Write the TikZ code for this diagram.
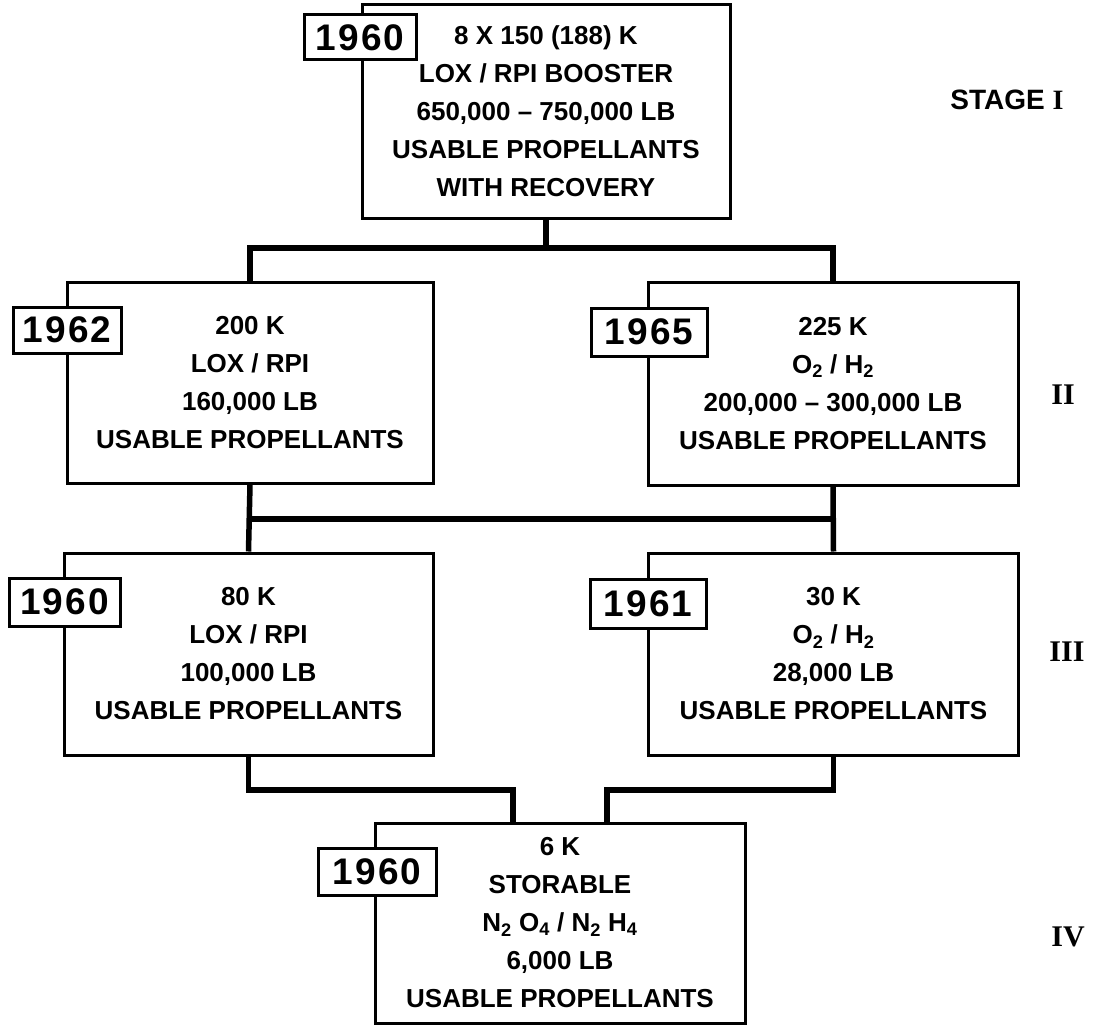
\documentclass[tikz,border=0pt]{standalone}
\usepackage{fontspec}
\setmainfont{Liberation Sans}
\newfontfamily\yearfont[LetterSpace=6]{Liberation Sans Bold}
\newfontfamily\romfont{Liberation Serif Bold}
\begin{document}
\begin{tikzpicture}[x=1pt,y=-1pt,
  stagebox/.style={draw,line width=3pt,fill=white,inner sep=0pt,align=center,
    font=\fontsize{26}{38}\selectfont\bfseries},
  yearbox/.style={draw,line width=3pt,fill=white,inner sep=0pt,
    font=\fontsize{37}{40}\selectfont\yearfont},
  conn/.style={line width=5.5pt},
  stagelbl/.style={font=\fontsize{28}{30}\selectfont\bfseries},
  romlbl/.style={font=\fontsize{30}{32}\selectfont\romfont}]
\useasboundingbox[fill=white] (0,0) rectangle (1098,1025);
% boxes
\node[stagebox,minimum width=368pt,minimum height=213pt] (top) at (546,111.5)
  {8 X 150 (188) K\\LOX / RPI BOOSTER\\650,000 -- 750,000 LB\\USABLE PROPELLANTS\\WITH RECOVERY};
\node[stagebox,minimum width=366pt,minimum height=201pt] (L2) at (250,382.5)
  {200 K\\LOX / RPI\\160,000 LB\\USABLE PROPELLANTS};
\node[stagebox,minimum width=370pt,minimum height=203pt] (R2) at (833,383.5)
  {225 K\\O\textsubscript{2} / H\textsubscript{2}\\200,000 -- 300,000 LB\\USABLE PROPELLANTS};
\node[stagebox,minimum width=369pt,minimum height=202pt] (L3) at (248.5,654)
  {80 K\\LOX / RPI\\100,000 LB\\USABLE PROPELLANTS};
\node[stagebox,minimum width=370pt,minimum height=202pt] (R3) at (833.5,654)
  {30 K\\O\textsubscript{2} / H\textsubscript{2}\\28,000 LB\\USABLE PROPELLANTS};
\node[stagebox,minimum width=370pt,minimum height=200pt] (B) at (560,923)
  {6 K\\STORABLE\\N\textsubscript{2} O\textsubscript{4} / N\textsubscript{2} H\textsubscript{4}\\6,000 LB\\USABLE PROPELLANTS};
% year boxes
\node[yearbox,minimum width=112pt,minimum height=45pt] (ya) at (360,37.5) {1960};
\node[yearbox,minimum width=108pt,minimum height=46pt] (yb) at (67,330) {1962};
\node[yearbox,minimum width=116pt,minimum height=48pt] (yc) at (649,332) {1965};
\node[yearbox,minimum width=111pt,minimum height=48pt] (yd) at (64.5,602) {1960};
\node[yearbox,minimum width=116pt,minimum height=49pt] (ye) at (648,603.5) {1961};
\node[yearbox,minimum width=118pt,minimum height=47pt] (yf) at (377,871.5) {1960};
% connectors
\coordinate (j1) at (546,248);
\draw[conn] (top.south) -- (j1);
\draw[conn] (L2.north) |- (j1) -| (R2.north);
\coordinate (m1) at (250,519);
\coordinate (m2) at (834,519);
\draw[conn] (L2.south) -- (L3.north);
\draw[conn] (R2.south) -- (R3.north);
\draw[conn] (m1) -- (m2);
\coordinate (bl) at (513,790);
\coordinate (br) at (607,790);
\draw[conn] (L3.south) |- (bl) -- (bl |- B.north);
\draw[conn] (R3.south) |- (br) -- (br |- B.north);
% stage labels
\node[stagelbl] (s1) at (1007,100) {STAGE {\romfont I}};
\node[romlbl] (s2) at (1063,395) {II};
\node[romlbl] (s3) at (1067,652) {III};
\node[romlbl] (s4) at (1068,937) {IV};
\end{tikzpicture}
\end{document}
